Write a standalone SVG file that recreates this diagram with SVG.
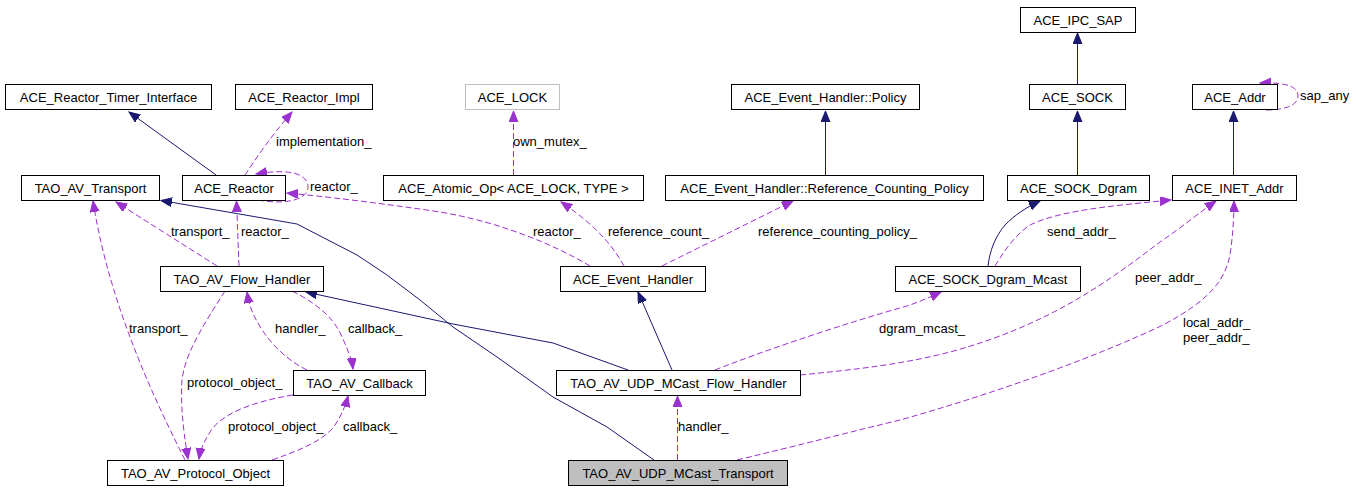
<svg xmlns="http://www.w3.org/2000/svg" width="1356" height="491" viewBox="0 0 1356 491">
<style>
.n rect{fill:#fff;stroke:#000;stroke-width:1}
.n text,.l{font-family:"Liberation Sans",Arial,sans-serif;font-size:13px;fill:#000}
.n text{text-anchor:middle}
.i{fill:none;stroke:#191970;stroke-width:1;marker-end:url(#ai)}
.u{fill:none;stroke:#9a32cd;stroke-width:1;stroke-dasharray:6,3;marker-end:url(#au)}
</style>
<defs>
<marker id="ai" markerUnits="userSpaceOnUse" markerWidth="13" markerHeight="11" refX="11" refY="4.5" orient="auto"><path d="M0,0 L11,4.5 L0,9 z" fill="#191970" stroke="#191970" stroke-width="1"/></marker>
<marker id="au" markerUnits="userSpaceOnUse" markerWidth="13" markerHeight="11" refX="11" refY="4.5" orient="auto"><path d="M0,0 L11,4.5 L0,9 z" fill="#9a32cd" stroke="#9a32cd" stroke-width="1"/></marker>
</defs>
<rect width="1356" height="491" fill="#fff"/>
<g id="edges">
<path class="i" d="M1077.5,84 L1077.5,33"/>
<path class="i" d="M1077.5,175 L1077.5,111"/>
<path class="i" d="M1233.5,175 L1233.5,111"/>
<path class="u" d="M1266,110 C1290,110 1298,103 1298,96 C1298,88 1290,82 1260,83"/>
<path class="i" d="M216,175 L129,112"/>
<path class="u" d="M245,175 C255,160 268,140 292,112"/>
<path class="u" d="M258,200 C285,205 308,200 308,187 C308,174 290,168 256,174"/>
<path class="u" d="M590,266 C555,245 500,222 440,212 C380,203 320,196 287,193"/>
<path class="i" d="M654,460 L607,427 L553,397 L497,357 L453,327 L420,300 L387,275 L357,255 L297,224 L170,202 L161,200.5"/>
<path class="i" d="M628,370 L553,343 L453,324 L306,292"/>
<path class="i" d="M672,370 L638,292"/>
<path class="u" d="M677.5,460 L677.5,396"/>
<path class="u" d="M737,460 C800,445 850,432 900,420 C1000,392 1100,355 1163,325 C1210,300 1225,280 1230,255 C1233,235 1234,215 1234,201"/>
<path class="u" d="M800,375 C850,370 900,365 950,352 C1050,325 1110,280 1160,242 C1185,225 1200,212 1216,201"/>
<path class="u" d="M715,370 C760,352 840,325 900,308 C915,304 928,298 941,292"/>
<path class="i" d="M988,266 C990,250 995,237 1005,225 C1015,215 1025,208 1040,201"/>
<path class="u" d="M995,266 C1005,250 1015,235 1030,225 C1060,210 1120,205 1171,200"/>
<path class="u" d="M624,266 C615,250 600,228 561,202"/>
<path class="u" d="M662,266 L793,201"/>
<path class="i" d="M825.5,175 L825.5,111"/>
<path class="u" d="M513.5,175 L513.5,111"/>
<path class="u" d="M217,266 L116,202"/>
<path class="u" d="M239,266 L236.5,201"/>
<path class="u" d="M185,460 C160,410 110,310 93,201"/>
<path class="u" d="M225,291 C200,330 185,355 182,380 C180,410 185,440 188,459"/>
<path class="u" d="M293,395 C250,402 220,415 210,432 C203,443 200,452 199,459"/>
<path class="u" d="M272,460 C300,450 320,442 333,428 C340,418 345,408 348,396"/>
<path class="u" d="M307,370 C290,362 270,345 258,323 C252,313 249,305 247,292"/>
<path class="u" d="M292,291 C320,305 335,320 342,337 C348,350 352,360 353,369"/>
<text class="l" x="1300" y="100">sap_any</text>
<text class="l" x="276" y="146">implementation_</text>
<text class="l" x="310" y="191">reactor_</text>
<text class="l" x="513" y="146">own_mutex_</text>
<text class="l" x="171" y="236">transport_</text>
<text class="l" x="241" y="236">reactor_</text>
<text class="l" x="533" y="236">reactor_</text>
<text class="l" x="608" y="236">reference_count_</text>
<text class="l" x="758" y="236">reference_counting_policy_</text>
<text class="l" x="1047" y="236">send_addr_</text>
<text class="l" x="1135" y="282">peer_addr_</text>
<text class="l" x="1183" y="327">local_addr_</text>
<text class="l" x="1183" y="342">peer_addr_</text>
<text class="l" x="879" y="333">dgram_mcast_</text>
<text class="l" x="678" y="431">handler_</text>
<text class="l" x="129" y="333">transport_</text>
<text class="l" x="275" y="333">handler_</text>
<text class="l" x="348" y="333">callback_</text>
<text class="l" x="187" y="387">protocol_object_</text>
<text class="l" x="228" y="431">protocol_object_</text>
<text class="l" x="343" y="431">callback_</text>
</g>
<g id="n_ipc_sap" class="n"><rect x="1020.5" y="7.5" width="115" height="25"/><text x="1078" y="25">ACE_IPC_SAP</text></g>
<g id="n_sock" class="n"><rect x="1029.5" y="84.5" width="96" height="25"/><text x="1077.5" y="102">ACE_SOCK</text></g>
<g id="n_addr" class="n"><rect x="1192.5" y="84.5" width="85" height="25"/><text x="1235" y="102">ACE_Addr</text></g>
<g id="n_sock_dgram" class="n"><rect x="1007.5" y="175.5" width="142" height="25"/><text x="1078.5" y="193">ACE_SOCK_Dgram</text></g>
<g id="n_inet_addr" class="n"><rect x="1172.5" y="175.5" width="124" height="25"/><text x="1234.5" y="193">ACE_INET_Addr</text></g>
<g id="n_timer_if" class="n"><rect x="5.5" y="84.5" width="206" height="25"/><text x="108.5" y="102">ACE_Reactor_Timer_Interface</text></g>
<g id="n_reactor_impl" class="n"><rect x="235.5" y="84.5" width="137" height="25"/><text x="304" y="102">ACE_Reactor_Impl</text></g>
<g id="n_lock" class="n"><rect x="465.5" y="84.5" width="94" height="25" style="stroke:#bfbfbf"/><text x="512.5" y="102">ACE_LOCK</text></g>
<g id="n_policy" class="n"><rect x="731.5" y="84.5" width="188" height="25"/><text x="825.5" y="102">ACE_Event_Handler::Policy</text></g>
<g id="n_transport" class="n"><rect x="21.5" y="175.5" width="138" height="25"/><text x="90.5" y="193">TAO_AV_Transport</text></g>
<g id="n_reactor" class="n"><rect x="182.5" y="175.5" width="103" height="25"/><text x="234" y="193">ACE_Reactor</text></g>
<g id="n_atomic_op" class="n"><rect x="383.5" y="175.5" width="260" height="25"/><text x="513.5" y="193">ACE_Atomic_Op&lt; ACE_LOCK, TYPE &gt;</text></g>
<g id="n_refcount_policy" class="n"><rect x="665.5" y="175.5" width="318" height="25"/><text x="824.5" y="193">ACE_Event_Handler::Reference_Counting_Policy</text></g>
<g id="n_flow_handler" class="n"><rect x="160.5" y="266.5" width="163" height="25"/><text x="242" y="284">TAO_AV_Flow_Handler</text></g>
<g id="n_event_handler" class="n"><rect x="560.5" y="266.5" width="145" height="25"/><text x="633" y="284">ACE_Event_Handler</text></g>
<g id="n_dgram_mcast" class="n"><rect x="895.5" y="266.5" width="185" height="25"/><text x="988" y="284">ACE_SOCK_Dgram_Mcast</text></g>
<g id="n_callback" class="n"><rect x="293.5" y="370.5" width="132" height="25"/><text x="359.5" y="388">TAO_AV_Callback</text></g>
<g id="n_udp_flow" class="n"><rect x="556.5" y="370.5" width="244" height="25"/><text x="678.5" y="388">TAO_AV_UDP_MCast_Flow_Handler</text></g>
<g id="n_protocol_object" class="n"><rect x="107.5" y="460.5" width="176" height="25"/><text x="195.5" y="478">TAO_AV_Protocol_Object</text></g>
<g id="n_udp_transport" class="n"><rect x="568.5" y="460.5" width="219" height="25" style="fill:#bfbfbf"/><text x="678" y="478">TAO_AV_UDP_MCast_Transport</text></g>
</svg>
